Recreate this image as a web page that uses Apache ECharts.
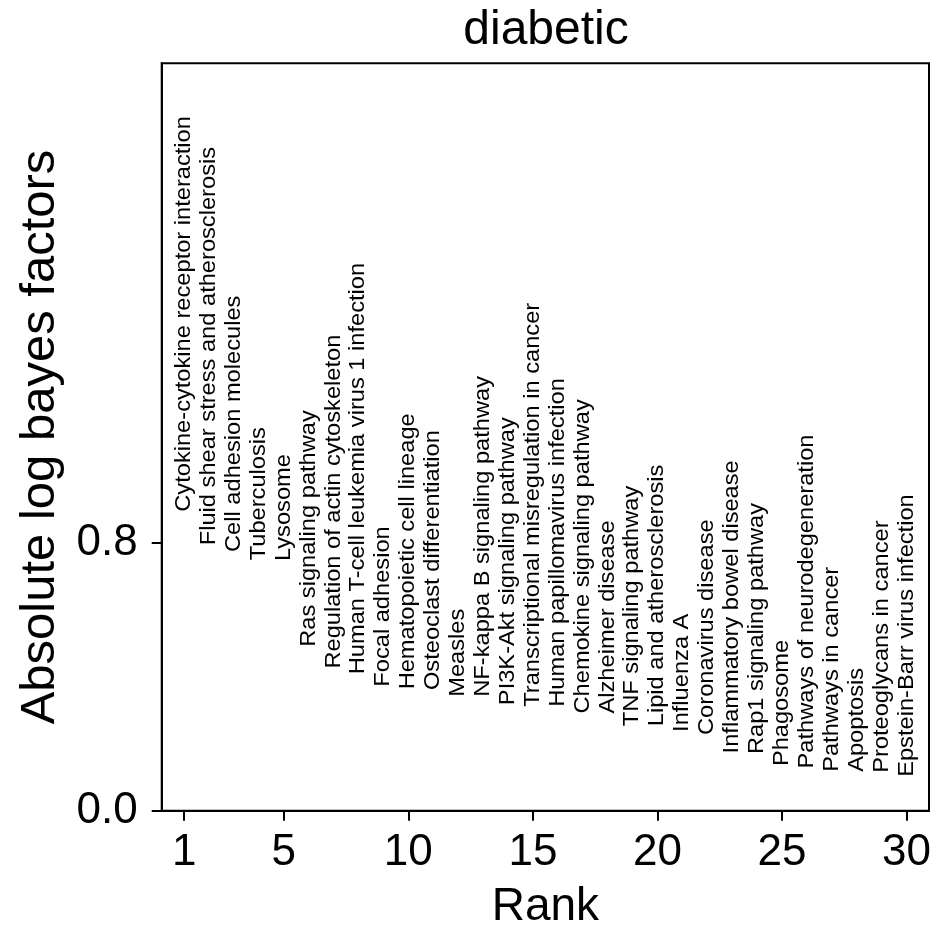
<!DOCTYPE html>
<html>
<head>
<meta charset="utf-8">
<title>diabetic</title>
<script src="https://cdn.jsdelivr.net/npm/echarts@6/dist/echarts.min.js"></script>
<style>
  html, body { margin: 0; padding: 0; background: #fff; }
  #chart { width: 933px; height: 931px; }
</style>
</head>
<body>
<div id="chart"></div>
<script>
// Pathways ranked by absolute log Bayes factor
const pathways = [
  "Cytokine-cytokine receptor interaction",
  "Fluid shear stress and atherosclerosis",
  "Cell adhesion molecules",
  "Tuberculosis",
  "Lysosome",
  "Ras signaling pathway",
  "Regulation of actin cytoskeleton",
  "Human T-cell leukemia virus 1 infection",
  "Focal adhesion",
  "Hematopoietic cell lineage",
  "Osteoclast differentiation",
  "Measles",
  "NF-kappa B signaling pathway",
  "PI3K-Akt signaling pathway",
  "Transcriptional misregulation in cancer",
  "Human papillomavirus infection",
  "Chemokine signaling pathway",
  "Alzheimer disease",
  "TNF signaling pathway",
  "Lipid and atherosclerosis",
  "Influenza A",
  "Coronavirus disease",
  "Inflammatory bowel disease",
  "Rap1 signaling pathway",
  "Phagosome",
  "Pathways of neurodegeneration",
  "Pathways in cancer",
  "Apoptosis",
  "Proteoglycans in cancer",
  "Epstein-Barr virus infection"
];
const ranks = pathways.map((_, i) => i + 1);
const logBF = [
  0.892, 0.792, 0.772, 0.747, 0.745, 0.489, 0.424, 0.407, 0.370, 0.362,
  0.360, 0.340, 0.340, 0.315, 0.310, 0.310, 0.290, 0.290, 0.252, 0.252,
  0.235, 0.226, 0.171, 0.169, 0.133, 0.126, 0.116, 0.116, 0.113, 0.101
];
const xTicks = [1, 5, 10, 15, 20, 25, 30];
const yTicks = [0, 0.8];

const FONT = "'Liberation Sans', Arial, Helvetica, sans-serif";
const points = ranks.map((r, i) => [r, logBF[i]]);
const yMax = 2.5 * Math.max(...logBF);

const chart = echarts.init(document.getElementById('chart'), null, { renderer: 'canvas' });
chart.setOption({
  animation: false,
  backgroundColor: '#fff',
  title: {
    text: 'diabetic',
    left: 541,
    textAlign: 'center',
    top: 2,
    textStyle: { fontFamily: FONT, fontSize: 48, fontWeight: 'normal', color: '#000' }
  },
  grid: {
    left: 161.7, right: 4, top: 63.3, bottom: 120.3,
    outerBoundsMode: 'none',
    containLabel: false,
    show: true, borderColor: '#000', borderWidth: 2, backgroundColor: 'transparent'
  },
  xAxis: {
    type: 'value',
    min: 0.1, max: 30.9,
    name: 'Rank',
    nameLocation: 'middle',
    nameGap: 74,
    nameTextStyle: { fontFamily: FONT, fontSize: 46, color: '#000' },
    axisLine: { show: true, lineStyle: { color: '#000', width: 2 } },
    axisTick: { show: true, inside: false, length: 10, customValues: xTicks, lineStyle: { color: '#000', width: 2 } },
    axisLabel: { customValues: xTicks, margin: 20, fontFamily: FONT, fontSize: 44, color: '#000' },
    splitLine: { show: false }
  },
  yAxis: {
    type: 'value',
    min: 0, max: yMax,
    name: 'Absolute log bayes factors',
    nameLocation: 'middle',
    nameGap: 97,
    nameTextStyle: { fontFamily: FONT, fontSize: 49, color: '#000' },
    axisLine: { show: true, lineStyle: { color: '#000', width: 2 } },
    axisTick: { show: true, inside: false, length: 10, customValues: yTicks, lineStyle: { color: '#000', width: 2 } },
    axisLabel: {
      customValues: yTicks, margin: 24, fontFamily: FONT, fontSize: 44, color: '#000',
      formatter: v => v.toFixed(1)
    },
    splitLine: { show: false }
  },
  series: [{
    type: 'custom',
    clip: false,
    data: points,
    renderItem: function (params, api) {
      const p = api.coord([api.value(0), api.value(1)]);
      return {
        type: 'text',
        x: p[0],
        y: p[1],
        rotation: Math.PI / 2,
        scaleX: 1.1,
        style: {
          text: pathways[params.dataIndex],
          fontFamily: FONT,
          fontSize: 21.5,
          fill: '#000',
          align: 'left',
          verticalAlign: 'middle'
        }
      };
    }
  }]
});
</script>
</body>
</html>
